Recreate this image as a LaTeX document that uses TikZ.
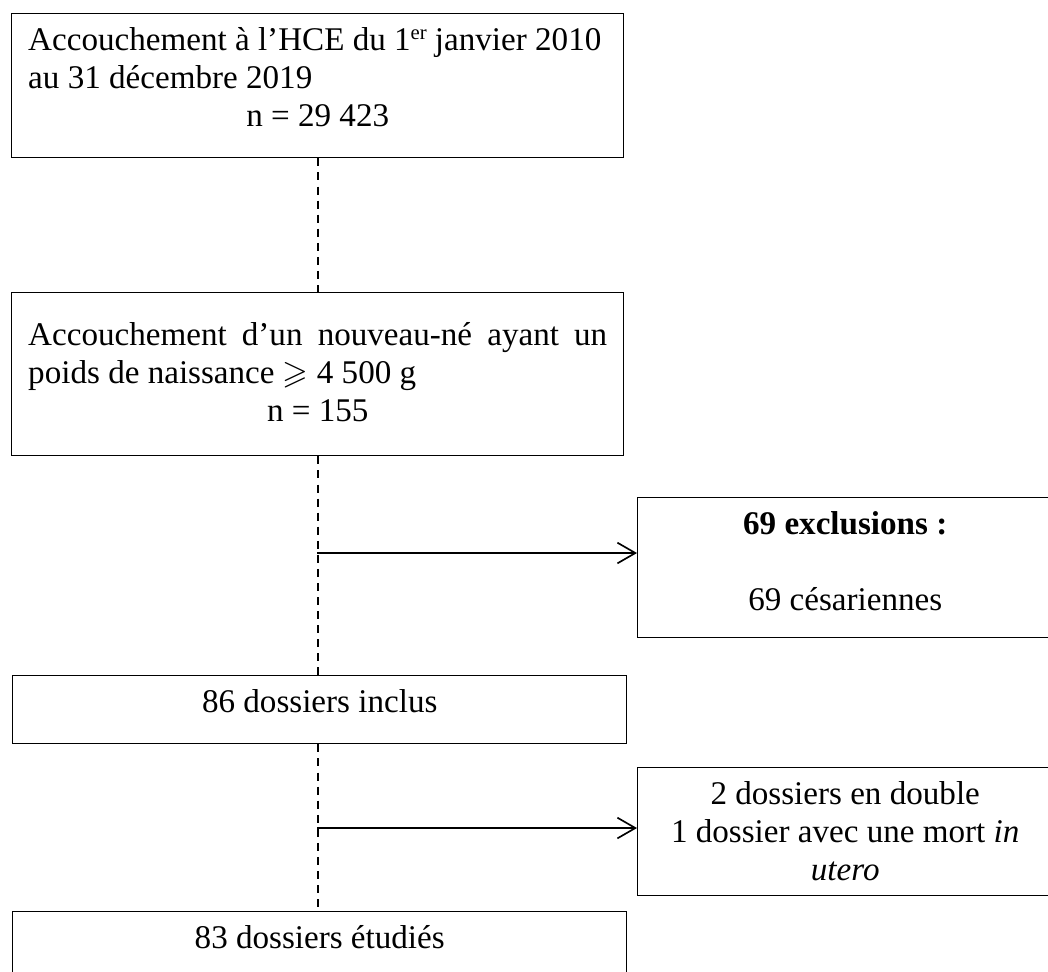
\documentclass[tikz,border=0pt]{standalone}
\usepackage{amssymb}
\usepackage{fontspec}
\setmainfont{Liberation Serif}
\usetikzlibrary{arrows.meta}

\newlength\pxu
\setlength\pxu{0.3625pt}
% text block of a box: width, height (px), first baseline gap
\newcommand{\flowtext}[4][37]{\parbox[t][#3\pxu][t]{#2\pxu}{\rule{0pt}{#1\pxu}#4}}
\newcommand{\smallsup}[1]{\raisebox{4.2pt}{\fontsize{7.5}{8}\selectfont #1}}

\begin{document}
\begin{tikzpicture}[x=0.3625pt, y=-0.3625pt,
  >={Straight Barb[length=6.5pt,width=7.5pt]},
  flowbox/.style={draw=black, line width=0.5pt, inner xsep=6pt, inner ysep=0pt,
    anchor=north west, font=\fontsize{12}{13.8}\selectfont},
  flowline/.style={line width=0.6pt, dash pattern=on 2.9pt off 2.2pt},
  exitline/.style={->, line width=0.6pt}]
  % Page frame
  \useasboundingbox (0,0) rectangle (1048,971);

  % Main column
  \node[flowbox] (birth) at (11,13) {\flowtext{579}{144}{%
    {\raggedright Accouchement à l’HCE du 1\smallsup{er} janvier 2010\\
    au 31 décembre 2019\par}\centering n = 29~423}};
  \node[flowbox] (cohort) at (11,292) {\flowtext[53]{579}{163}{%
    {\raggedright\makebox[\linewidth][s]{Accouchement d’un nouveau-né ayant un}\\
    poids de naissance $\geqslant$ 4~500 g\par}\centering n = 155}};
  \node[flowbox] (incl) at (12,675) {\flowtext{581}{68}{\centering 86 dossiers inclus}};
  \node[flowbox] (studied) at (12,911) {\flowtext{581}{80}{\centering 83 dossiers étudiés}};

  % Exclusion boxes
  \node[flowbox] (cesar) at (637,497) {\flowtext{382}{140}{\centering
    \textbf{69 exclusions~:}\\[13.8pt]
    69 césariennes}};
  \node[flowbox] (dupl) at (637,767) {\flowtext{382}{128}{\centering
    2 dossiers en double\\
    1 dossier avec une mort \textit{in}\\
    \textit{utero}}};

  % Split points on the dashed line
  \coordinate (split1) at (317,553);
  \coordinate (split2) at (317,828);

  % Dashed flow line
  \draw[flowline] (birth.south) -- (cohort.north);
  \draw[flowline] (cohort.south) -- (cohort.south |- incl.north);
  \draw[flowline] (cohort.south |- incl.south) -- (cohort.south |- studied.north);

  % Arrows to the exclusions
  \draw[exitline] (split1) -- (split1 -| cesar.west);
  \draw[exitline] (split2) -- (split2 -| dupl.west);
\end{tikzpicture}
\end{document}
